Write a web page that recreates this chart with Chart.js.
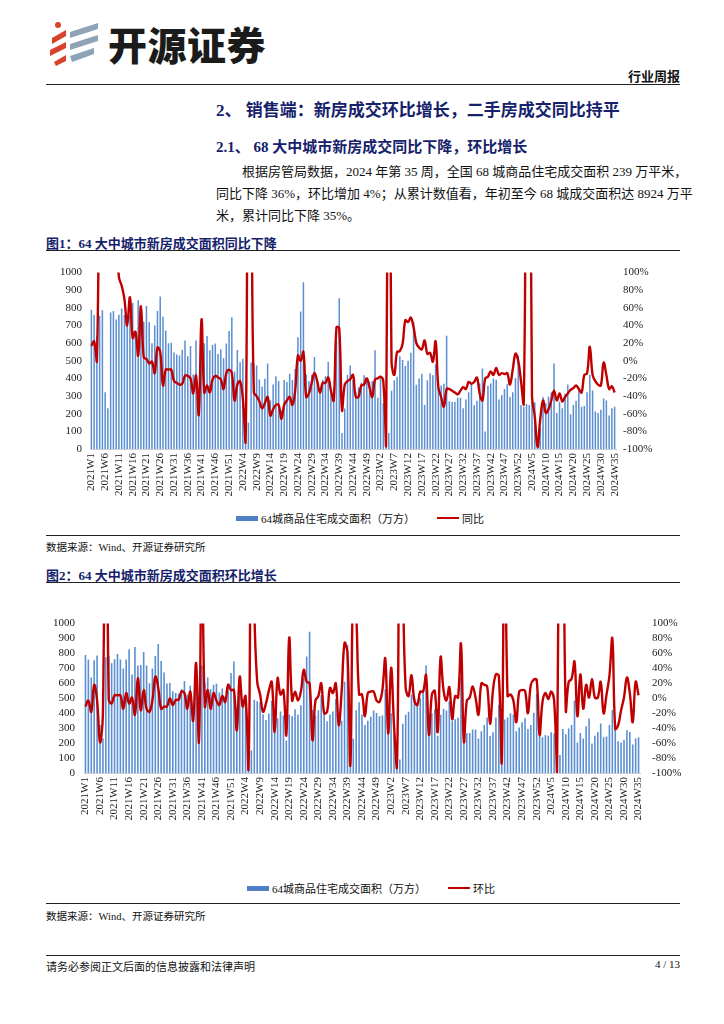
<!DOCTYPE html>
<html lang="zh-CN">
<head>
<meta charset="utf-8">
<title>64大中城市新房成交面积</title>
<script src="https://cdn.jsdelivr.net/npm/chart.js@4.4.1/dist/chart.umd.min.js"></script>
<style>
html, body { margin: 0; padding: 0; background: #fff; }
body { width: 724px; height: 1024px; position: relative; overflow: hidden;
       font-family: "Liberation Serif", "Noto Sans CJK SC", serif; color: #111; }
.abs { position: absolute; white-space: nowrap; }
.rule { position: absolute; left: 46px; width: 634px; height: 0; border-top: 1.5px solid #222; }
.navy { color: #15216b; font-weight: bold; }
.para { position: absolute; left: 216px; width: 462px; font-size: 13px; line-height: 20px;
        text-align: justify; text-align-last: justify; white-space: nowrap; }
.legend { position: absolute; font-size: 11px; display: flex; align-items: center; white-space: nowrap; }
.legend .box { display: inline-block; width: 22px; height: 5px; background: #4f7fc4; margin-right: 3px; }
.legend .ln { display: inline-block; width: 22px; height: 0; border-top: 2.5px solid #c00000; margin: 0 3px 0 22px; }
.src { position: absolute; left: 46px; font-size: 10.5px; }
</style>
</head>
<body>

<!-- logo -->
<svg class="abs" style="left:48px;top:20px" width="56" height="48" viewBox="0 0 56 48">
  <circle cx="10" cy="5" r="3" fill="#d8412c"/>
  <polygon points="4,18 18,10 18,16 4,24" fill="#d8412c"/>
  <polygon points="2,30 18,22 18,28 2,36" fill="#d8412c"/>
  <polygon points="6,42 18,35 18,41 8,46" fill="#d8412c"/>
  <polygon points="22,12 50,3 50,9 22,18" fill="#8ea3b6"/>
  <polygon points="22,24 50,15 50,21 22,30" fill="#8ea3b6"/>
  <polygon points="22,36 46,28 46,34 24,42" fill="#8ea3b6"/>
</svg>
<div class="abs" style="left:108px;top:15px;font-family:'Noto Sans CJK SC';font-weight:900;font-size:39px;letter-spacing:0.5px;color:#1b1b1b">开源证券</div>

<div class="abs" style="right:44px;top:66px;font-family:'Noto Sans CJK SC';font-weight:bold;font-size:13px">行业周报</div>
<div class="rule" style="top:84px"></div>

<div class="abs navy" style="left:216px;top:96px;font-size:17px">2、 销售端：新房成交环比增长，二手房成交同比持平</div>
<div class="abs navy" style="left:216px;top:135px;font-size:15px">2.1、 68 大中城市新房成交同比下降，环比增长</div>

<div class="para" style="top:162px;left:242px;width:436px">根据房管局数据，2024 年第 35 周，全国 68 城商品住宅成交面积 239 万平米，</div>
<div class="para" style="top:184px">同比下降 36%，环比增加 4%；从累计数值看，年初至今 68 城成交面积达 8924 万平</div>
<div class="para" style="top:206px;text-align-last:left">米，累计同比下降 35%。</div>

<div class="abs navy" style="left:46px;top:233px;font-size:13px">图1：64 大中城市新房成交面积同比下降</div>
<div class="rule" style="top:250px"></div>

<canvas id="chart1" class="abs" width="620" height="250" style="left:40px;top:258px"></canvas>
<div class="legend" style="left:236px;top:510px">
  <span class="box"></span>64城商品住宅成交面积（万方）<span class="ln"></span>同比
</div>

<div class="rule" style="top:535px"></div>
<div class="src" style="top:539px">数据来源：Wind、开源证券研究所</div>

<div class="abs navy" style="left:46px;top:565px;font-size:13px">图2：64 大中城市新房成交面积环比增长</div>
<div class="rule" style="top:582px"></div>

<canvas id="chart2" class="abs" width="660" height="235" style="left:30px;top:605px"></canvas>
<div class="legend" style="left:247px;top:880px">
  <span class="box"></span>64城商品住宅成交面积（万方）<span class="ln"></span>环比
</div>

<div class="rule" style="top:903px"></div>
<div class="src" style="top:908px">数据来源：Wind、开源证券研究所</div>

<div class="rule" style="top:955px"></div>
<div class="src" style="top:958px;font-size:11px">请务必参阅正文后面的信息披露和法律声明</div>
<div class="abs" style="right:44px;top:958px;font-size:11px">4 / 13</div>

<script>
// 周度数据：2021W1 - 2024W35
const yearWeeks = [[2021, 52], [2022, 52], [2023, 52], [2024, 35]];
const weeks = [];
yearWeeks.forEach(([y, n]) => {
    for (let w = 1; w <= n; w++) weeks.push(y + 'W' + w);
});

// 64城商品住宅成交面积（万方）
const area = [
    790, 760, 640, 755, 786, 322, 231, 774, 783, 734,
    761, 796, 760, 700, 760, 828, 660, 843, 720, 723,
    810, 720, 600, 700, 783, 864, 750, 672, 599, 603,
    547, 536, 530, 563, 615, 526, 584, 422, 615, 266,
    720, 600, 640, 560, 590, 598, 539, 566, 514, 598,
    669, 747, 440, 561, 492, 512, 40, 150, 490, 480,
    474, 394, 354, 398, 484, 276, 366, 412, 385, 218,
    391, 380, 426, 391, 453, 634, 780, 946, 422, 385,
    420, 521, 400, 347, 391, 412, 495, 322, 350, 610,
    855, 90, 230, 420, 474, 391, 322, 349, 376, 418,
    401, 380, 385, 560, 290, 400, 260, 25, 90, 330,
    390, 410, 526, 505, 470, 500, 545, 720, 364, 400,
    426, 250, 390, 430, 418, 480, 350, 360, 370, 642,
    270, 266, 268, 291, 291, 231, 280, 322, 371, 248,
    273, 371, 457, 99, 358, 371, 400, 392, 280, 304,
    340, 367, 295, 322, 403, 530, 248, 240, 255, 250,
    272, 265, 5, 120, 295, 259, 298, 322, 485, 204,
    268, 231, 313, 365, 197, 250, 273, 331, 240, 244,
    322, 421, 331, 213, 204, 222, 286, 275, 190, 231,
    239
];

// 同比（%）
const yoy = [
    17, 22, 0, 250, 400, 600, 900, 800, 300, 150,
    95, 85, 70, 40, 72, 26, 33, 6, 62, 4,
    2, -3, -1, -14, 15, 10, -28, -10, -10, -10,
    -23, -25, -27, -26, -17, -17, -20, -37, -17, -61,
    47, -36, -28, -36, -21, -17, -19, -21, -32, -14,
    -10, -14, -45, -27, -23, -43, -92, 300, 200, -36,
    -40, -46, -54, -48, -41, -62, -55, -50, -50, -66,
    -50, -45, -41, -50, -34, 6, 0, 10, -41, -37,
    -25, -14, -23, -36, -25, -25, -19, -34, -45, 38,
    37, -56, -27, -23, -21, -16, -41, -41, -28, -27,
    -20, -30, -41, -21, -20, -18, -23, -97, 500, -1,
    -16, 10, 11, 19, 46, 44, 49, 38, 20, 15,
    13, 23, 8, 9, -1, 22, -30, -41, -52, -32,
    -32, -34, -36, -38, -34, -30, -32, -24, -26, -24,
    -19, -37, -45, -20, -18, -12, -16, -8, -16, -14,
    -15, -14, -27, -10, 8, 0, -23, -48, 300, 400,
    -40, -63, -98, -66, -45, -59, -55, -45, -34, -45,
    -37, -46, -41, -37, -33, -31, -28, -32, -36, -16,
    -14, 16, -16, -23, -27, -28, -2, -16, -32, -29,
    -36
];

// 环比（%）
const mom = [
    -11, -3, -18, 18, -3, -59, -20, 420, -1, -7,
    4, 4, 4, -14, 7, -7, 1, -22, 27, -16,
    11, -14, -18, -3, 29, 14, -14, -11, -11, 0,
    -9, -2, -2, 9, 7, -14, 9, -30, 47, -58,
    200, -11, 11, -14, 7, -3, -9, 3, -5, 18,
    11, 11, -43, 29, -11, 3, -96, 250, 115, 22,
    5, -18, -7, 10, 22, -45, 27, 5, 11, -49,
    81, -3, 9, -3, 9, 38, 22, 20, -56, -3,
    3, 20, -20, -18, 14, 7, 20, -36, 9, 74,
    61, -90, 160, 115, 5, 5, -24, 7, 9, 9,
    -3, -5, 11, 53, -47, 41, -36, -93, 250, 150,
    14, 3, 31, -3, -9, 9, 9, 31, -49, 5,
    10, -45, 55, 11, -3, 15, -28, 3, 1, 73,
    -58, -3, 1, 16, 1, -22, 20, 18, 16, -34,
    11, 32, 30, -86, 260, 3, 5, -3, -32, 9,
    11, 10, -20, 18, 25, 25, -49, -5, 7, -1,
    9, -3, -99, 400, 300, -16, 22, 26, 49, -24,
    32, -14, 18, 1, 26, 1, 1, 22, -20, 5,
    30, 80, -41, -36, -16, 1, 28, 7, -32, 22,
    4
];

const tickFont = { family: 'Liberation Serif', size: 11 };

function makeChart(id, lineData, lineLabel, dims) {
    const ctx = document.getElementById(id).getContext('2d');
    return new Chart(ctx, {
        data: {
            labels: weeks,
            datasets: [
                {
                    type: 'line',
                    label: lineLabel,
                    data: lineData,
                    yAxisID: 'y1',
                    borderColor: '#c00000',
                    borderWidth: 2.4,
                    pointRadius: 0,
                    tension: 0.4,
                    order: 0
                },
                {
                    type: 'bar',
                    label: '64城商品住宅成交面积（万方）',
                    data: area,
                    yAxisID: 'y',
                    backgroundColor: '#5b8fd2',
                    barPercentage: 0.55,
                    categoryPercentage: 1.0,
                    order: 1
                }
            ]
        },
        options: {
            responsive: false,
            animation: false,
            layout: { padding: { top: 7, left: 0, right: 0, bottom: 0 } },
            plugins: { legend: { display: false }, tooltip: { enabled: false } },
            scales: {
                x: {
                    grid: { display: false, drawTicks: false },
                    border: { display: true, color: '#cfcfcf' },
                    ticks: {
                        autoSkip: false, maxRotation: 90, minRotation: 90,
                        padding: 4, color: '#222', font: tickFont,
                        callback: (v, i) => (i % 5 === 0 ? weeks[i] : '')
                    },
                    afterFit: s => { s.height = dims.xh; }
                },
                y: {
                    position: 'left', min: 0, max: 1000,
                    grid: { display: false, drawTicks: false },
                    border: { display: false },
                    ticks: { stepSize: 100, autoSkip: false, padding: dims.lp, color: '#222',
                             font: tickFont, callback: v => String(v) },
                    afterFit: s => { s.width = dims.lw; }
                },
                y1: {
                    position: 'right', min: -100, max: 100,
                    grid: { display: false, drawTicks: false },
                    border: { display: false },
                    ticks: { stepSize: 20, autoSkip: false, padding: dims.rp, color: '#222',
                             font: tickFont, callback: v => v + '%' },
                    afterFit: s => { s.width = dims.rw; }
                }
            }
        }
    });
}

makeChart('chart1', yoy, '同比', { lw: 50, rw: 44, xh: 59, lp: 8, rp: 7 });
makeChart('chart2', mom, '环比', { lw: 54, rw: 50, xh: 67, lp: 9, rp: 12 });
</script>
</body>
</html>
